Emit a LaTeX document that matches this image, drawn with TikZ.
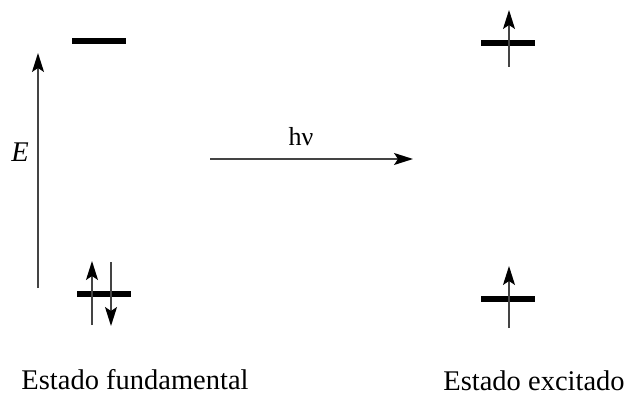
\documentclass[tikz,border=0pt]{standalone}
\usepackage{fontspec}
\setmainfont{Liberation Serif}
\usetikzlibrary{arrows.meta,positioning}
\definecolor{linegray}{HTML}{444444}

\begin{document}
\begin{tikzpicture}[x=1pt,y=-1pt,
  level/.style={line width=6pt, black},
  spin/.style={-{Stealth[length=19pt,width=12pt,inset=4pt,color=black]}, line width=1.4pt, linegray},
  lbl/.style={font=\fontsize{28.5}{30}\selectfont, anchor=base, inner sep=0pt}]
  \useasboundingbox (0,0) rectangle (628,395);
  % energy axis
  \coordinate (ebot) at (38,288);
  \coordinate (etop) at (38,53);
  \draw[spin] (ebot) -- (etop);
  \node[lbl] (elabel) at (20,162) {\textit{E}};
  % levels, ground state
  \coordinate (g1l) at (72,41);  \coordinate (g1r) at (126,41);
  \coordinate (g0l) at (77,294); \coordinate (g0r) at (131,294);
  % levels, excited state
  \coordinate (x1l) at (481,43); \coordinate (x1r) at (535,43);
  \coordinate (x0l) at (481,299); \coordinate (x0r) at (535,299);
  \foreach \l/\r in {g1l/g1r, g0l/g0r, x1l/x1r, x0l/x0r}{
    \draw[level] (\l) -- (\r);
  }
  % electrons
  \coordinate (ua) at (92,325);  \coordinate (ub) at (92,261);
  \coordinate (da) at (111,262); \coordinate (db) at (111,326);
  \coordinate (va) at (509,67);  \coordinate (vb) at (509,10);
  \coordinate (wa) at (509,328); \coordinate (wb) at (509,266);
  \foreach \a/\b in {ua/ub, da/db, va/vb, wa/wb}{
    \draw[spin] (\a) -- (\b);
  }
  % excitation
  \coordinate (hl) at (210,159);
  \coordinate (hr) at (413,159);
  \draw[spin] (hl) -- (hr);
  \node[lbl, font=\fontsize{26}{28}\selectfont] (hnu) at (301,146) {hν};
  % states
  \node[lbl] (fund) at (135,389) {Estado fundamental};
  \node[lbl] (exc) at (534,390) {Estado excitado};
\end{tikzpicture}
\end{document}
